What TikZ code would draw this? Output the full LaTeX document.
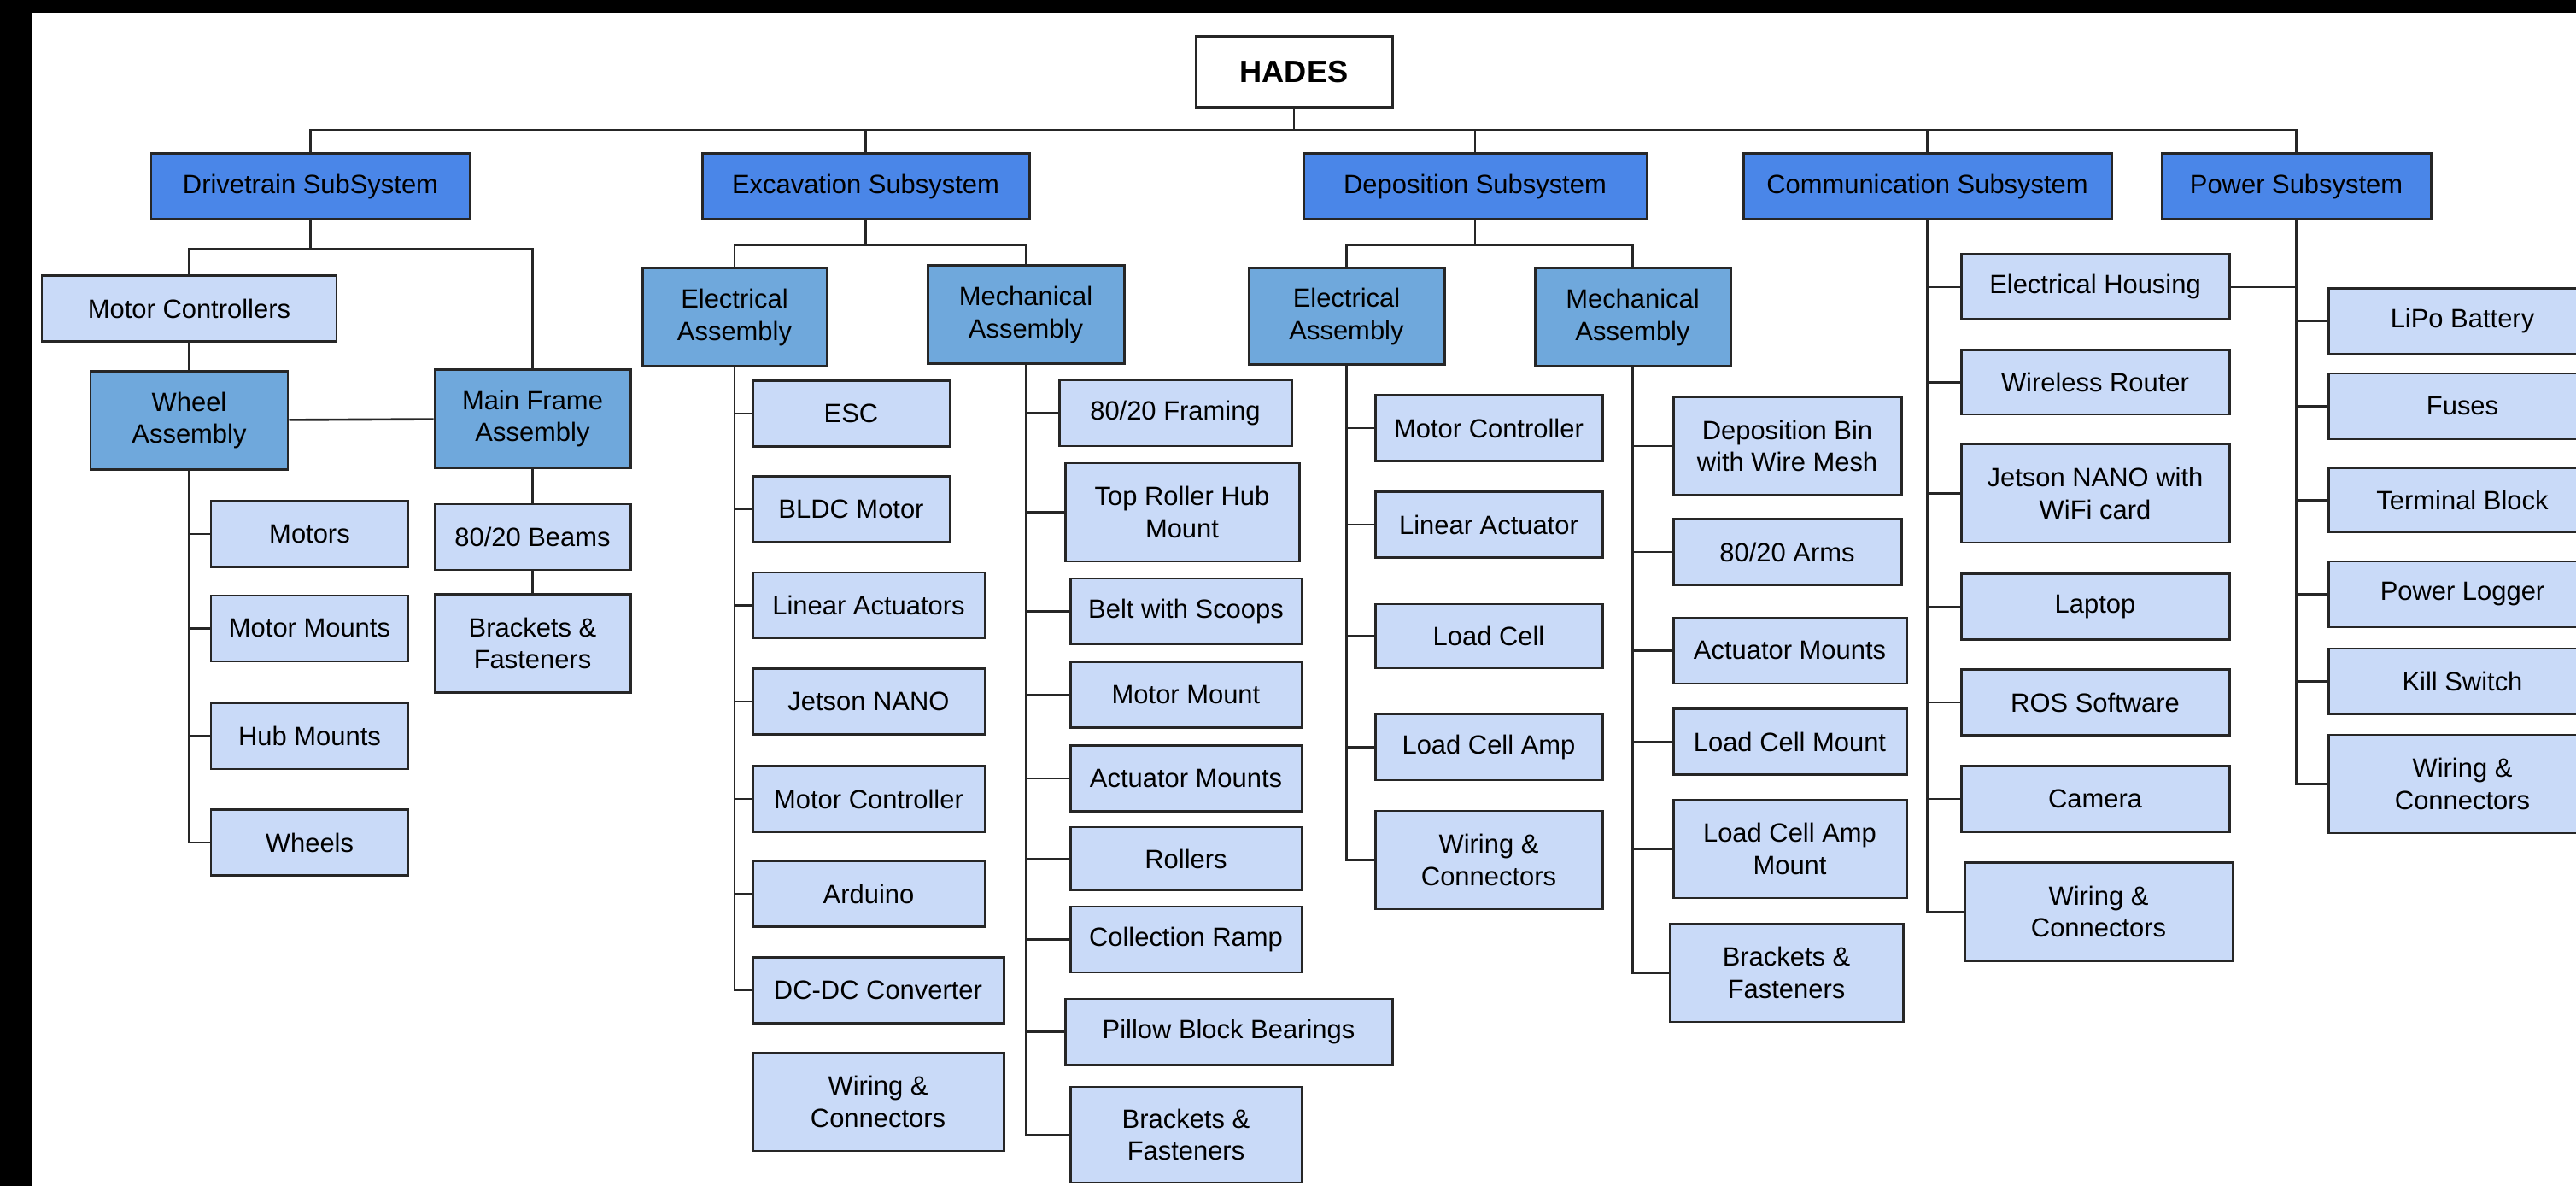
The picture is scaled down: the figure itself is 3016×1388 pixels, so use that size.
\documentclass[tikz,border=0pt]{standalone}
\usepackage{fontspec}
\setmainfont{Liberation Sans}
\usepackage{tikz}
\usetikzlibrary{positioning,calc}

\definecolor{sysblue}{HTML}{4A86E8}
\definecolor{asmblue}{HTML}{6FA8DC}
\definecolor{partblue}{HTML}{C9DAF8}
\definecolor{linegray}{HTML}{262626}

\begin{document}
\begin{tikzpicture}[
      x=.1mm, y=-.1mm,%
      box/.style={draw=linegray, line width=.85pt, inner sep=0pt, align=center,
                  font=\fontsize{8.8}{10.6}\selectfont, minimum height=7.7mm},%
      sysbox/.style={box, fill=sysblue},%
      asmbox/.style={box, fill=asmblue, minimum height=11.5mm},%
      partbox/.style={box, fill=partblue},%
      tallbox/.style={minimum height=11.5mm},%
      link/.style={draw=linegray, line width=.75pt}%
    ]
    \useasboundingbox (0,0) rectangle (3016,1388);
    \clip (0,0) rectangle (3016,1388);
    \fill[white] (0,0) rectangle (3016,1388);
    \fill[black] (0,0) rectangle (38,1388);
    \fill[black] (0,0) rectangle (3016,15);

    %% Top level
    \node[box, fill=white, minimum width=23mm, minimum height=8.3mm,
          font=\fontsize{10.3}{12}\selectfont\bfseries] (hades) at (1515,84.5) {HADES};
    \node[sysbox, minimum width=37.3mm] (drive) at (363.5,218.5) {Drivetrain SubSystem};
    \node[sysbox, minimum width=38.3mm] (excav) at (1013.5,218.5) {Excavation Subsystem};
    \node[sysbox, minimum width=40.2mm] (depos) at (1727,218.5) {Deposition Subsystem};
    \node[sysbox, minimum width=43.1mm] (comm) at (2256.5,218.5) {Communication Subsystem};
    \node[sysbox, minimum width=31.5mm] (power) at (2688.5,218.5) {Power Subsystem};

    \coordinate (bus) at (0,152);
    \draw[link] (drive.north) |- (bus -| hades.south) -| (power.north);
    \draw[link] (hades.south) -- (hades.south |- bus);
    \foreach \n in {excav,depos,comm}
      \draw[link] (\n.north) -- (\n.north |- bus);

    %% Drivetrain
    \node[partbox, minimum width=34.5mm] (motctl) at (221.5,361.5) {Motor Controllers};
    \node[asmbox, minimum width=23.1mm] (wheel) at (221.5,492) {Wheel\\Assembly};
    \node[asmbox, minimum width=22.9mm] (frame) at (623.5,490) {Main Frame\\Assembly};
    \node[partbox, minimum width=23.1mm] (motors) at (362.5,625) {Motors};
    \node[partbox, minimum width=23.1mm] (motmounts) at (362.5,735.5) {Motor Mounts};
    \node[partbox, minimum width=23.1mm] (hubmounts) at (362.5,861.5) {Hub Mounts};
    \node[partbox, minimum width=23.1mm] (wheels) at (362.5,986) {Wheels};
    \node[partbox, minimum width=22.9mm] (beams) at (623.5,628.5) {80/20 Beams};
    \node[partbox, tallbox, minimum width=22.9mm] (fbrackets) at (623.5,753) {Brackets \&\\Fasteners};

    \draw[link] (motctl.north) |- ($(drive.south)+(0,33)$) -| (frame.north);
    \draw[link] (drive.south) -- ++(0,33);
    \draw[link] (motctl) -- (wheel);
    \draw[link] (wheel) -- (frame);
    \draw[link] (frame) -- (beams) -- (fbrackets);
    \foreach \n in {motors,motmounts,hubmounts,wheels}
      \draw[link] (wheel.south) |- (\n.west);

    %% Excavation
    \node[asmbox, minimum width=21.6mm] (eelec) at (860,371.5) {Electrical\\Assembly};
    \node[asmbox, minimum width=23mm] (emech) at (1201,368.5) {Mechanical\\Assembly};
    \draw[link] (eelec.north) |- ($(excav.south)+(0,28)$) -| (emech.north);
    \draw[link] (excav.south) -- ++(0,28);

    \node[partbox, minimum width=23.1mm] (esc) at (996.5,484) {ESC};
    \node[partbox, minimum width=23.1mm] (bldc) at (996.5,596) {BLDC Motor};
    \node[partbox, minimum width=27.2mm] (elinact) at (1017,708.5) {Linear Actuators};
    \node[partbox, minimum width=27.2mm] (ejetson) at (1017,821) {Jetson NANO};
    \node[partbox, minimum width=27.2mm] (emotctl) at (1017,935) {Motor Controller};
    \node[partbox, minimum width=27.2mm] (arduino) at (1017,1046) {Arduino};
    \node[partbox, minimum width=29.4mm] (dcdc) at (1028,1159) {DC-DC Converter};
    \node[partbox, tallbox, minimum width=29.4mm] (ewiring) at (1028,1289.5) {Wiring \&\\Connectors};
    \foreach \n in {esc,bldc,elinact,ejetson,emotctl,arduino,dcdc}
      \draw[link] (eelec.south) |- (\n.west);

    \node[partbox, minimum width=27.2mm] (framing) at (1376,483.5) {80/20 Framing};
    \node[partbox, tallbox, minimum width=27.4mm] (toproller) at (1384,599.5) {Top Roller Hub\\Mount};
    \node[partbox, minimum width=27.1mm] (belt) at (1388.5,715.5) {Belt with Scoops};
    \node[partbox, minimum width=27.1mm] (emotmount) at (1388.5,813) {Motor Mount};
    \node[partbox, minimum width=27.1mm] (eactmounts) at (1388.5,911) {Actuator Mounts};
    \node[partbox, minimum width=27.1mm, minimum height=7.4mm] (rollers) at (1388.5,1005) {Rollers};
    \node[partbox, minimum width=27.1mm] (ramp) at (1388.5,1099.5) {Collection Ramp};
    \node[partbox, minimum width=38.3mm] (pillow) at (1438.5,1207.5) {Pillow Block Bearings};
    \node[partbox, minimum width=27.1mm, minimum height=11.2mm] (ebrackets) at (1388.5,1328) {Brackets \&\\Fasteners};
    \foreach \n in {framing,toproller,belt,emotmount,eactmounts,rollers,ramp,pillow,ebrackets}
      \draw[link] (emech.south) |- (\n.west);

    %% Deposition
    \node[asmbox, minimum width=22.9mm, minimum height=11.3mm] (delec) at (1576.5,370.5) {Electrical\\Assembly};
    \node[asmbox, minimum width=22.9mm] (dmech) at (1911.5,371.5) {Mechanical\\Assembly};
    \draw[link] (delec.north) |- ($(depos.south)+(0,28)$) -| (dmech.north);
    \draw[link] (depos.south) -- ++(0,28);

    \node[partbox, minimum width=26.6mm] (dmotctl) at (1743,501) {Motor Controller};
    \node[partbox, minimum width=26.6mm] (dlinact) at (1743,614) {Linear Actuator};
    \node[partbox, minimum width=26.6mm, minimum height=7.5mm] (loadcell) at (1743,744.5) {Load Cell};
    \node[partbox, minimum width=26.6mm] (lcamp) at (1743,874.5) {Load Cell Amp};
    \node[partbox, tallbox, minimum width=26.6mm] (dwiring) at (1743,1006.5) {Wiring \&\\Connectors};
    \foreach \n in {dmotctl,dlinact,loadcell,lcamp,dwiring}
      \draw[link] (delec.south) |- (\n.west);

    \node[partbox, minimum width=26.7mm, minimum height=11.4mm] (bin) at (2092.5,522) {Deposition Bin\\with Wire Mesh};
    \node[partbox, minimum width=26.7mm] (arms) at (2092.5,646) {80/20 Arms};
    \node[partbox, minimum width=27.3mm] (dactmounts) at (2095.5,761.5) {Actuator Mounts};
    \node[partbox, minimum width=27.3mm] (lcmount) at (2095.5,868) {Load Cell Mount};
    \node[partbox, tallbox, minimum width=27.3mm] (lcampmount) at (2095.5,993.5) {Load Cell Amp\\Mount};
    \node[partbox, tallbox, minimum width=27.3mm] (dbrackets) at (2091.5,1138.5) {Brackets \&\\Fasteners};
    \foreach \n in {bin,arms,dactmounts,lcmount,lcampmount,dbrackets}
      \draw[link] (dmech.south) |- (\n.west);

    %% Communication
    \node[partbox, minimum width=31.4mm, minimum height=7.6mm] (housing) at (2453,336) {Electrical Housing};
    \node[partbox, minimum width=31.4mm, minimum height=7.5mm] (router) at (2453,447.5) {Wireless Router};
    \node[partbox, tallbox, minimum width=31.4mm] (jetwifi) at (2453,577.5) {Jetson NANO with\\WiFi card};
    \node[partbox, minimum width=31.4mm] (laptop) at (2453,710) {Laptop};
    \node[partbox, minimum width=31.4mm] (ros) at (2453,822) {ROS Software};
    \node[partbox, minimum width=31.4mm] (camera) at (2453,935) {Camera};
    \node[partbox, tallbox, minimum width=31.4mm] (cwiring) at (2457,1067) {Wiring \&\\Connectors};
    \foreach \n in {housing,router,jetwifi,laptop,ros,camera,cwiring}
      \draw[link] (comm.south) |- (\n.west);
    \draw[link] (housing.east) -- (housing.east -| power.south);

    %% Power
    \node[partbox, minimum width=31.4mm] (lipo) at (2883,376) {LiPo Battery};
    \node[partbox, minimum width=31.4mm] (fuses) at (2883,475.5) {Fuses};
    \node[partbox, minimum width=31.4mm, minimum height=7.5mm] (terminal) at (2883,585.5) {Terminal Block};
    \node[partbox, minimum width=31.4mm] (logger) at (2883,695.5) {Power Logger};
    \node[partbox, minimum width=31.4mm] (kill) at (2883,797.5) {Kill Switch};
    \node[partbox, tallbox, minimum width=31.4mm] (pwiring) at (2883,917.5) {Wiring \&\\Connectors};
    \foreach \n in {lipo,fuses,terminal,logger,kill,pwiring}
      \draw[link] (power.south) |- (\n.west);
  \end{tikzpicture}
\end{document}
